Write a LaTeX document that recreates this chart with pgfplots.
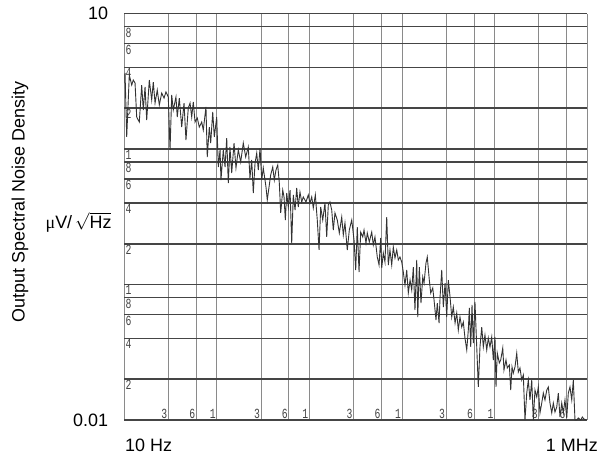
\documentclass[border=0pt]{standalone}
\usepackage{fontspec}
\setmainfont{Liberation Sans}
\newfontfamily\serifmu{Liberation Serif}
\newfontfamily\tickfont[FakeStretch=0.7]{Liberation Mono}
\usepackage{pgfplots}
\pgfplotsset{compat=1.18}
\usepackage{pgfplotstable}
\definecolor{hgrid}{HTML}{454545}
\definecolor{vgrid}{HTML}{8A8A8A}
\definecolor{trace}{HTML}{333333}
\definecolor{tickc}{HTML}{444444}
\pgfplotstableread{
lf lv
1.000 0.487
1.008 0.561
1.026 0.089
1.054 0.546
1.080 0.472
1.097 0.509
1.116 0.487
1.134 0.236
1.162 0.199
1.188 0.472
1.205 0.288
1.224 0.458
1.242 0.214
1.270 0.509
1.296 0.362
1.313 0.494
1.332 0.339
1.356 0.435
1.378 0.325
1.404 0.413
1.429 0.376
1.450 0.421
1.475 0.384
1.494 -0.007
1.512 0.399
1.529 0.288
1.558 0.384
1.572 0.236
1.594 0.376
1.620 0.162
1.645 0.339
1.666 0.066
1.691 0.303
1.710 0.339
1.728 0.236
1.745 0.347
1.764 0.199
1.788 0.229
1.810 0.162
1.836 0.199
1.853 0.140
1.882 0.310
1.896 -0.059
1.918 0.162
1.933 0.044
1.955 0.273
1.972 0.089
1.998 0.236
2.015 -0.133
2.034 -0.007
2.044 -0.229
2.069 -0.007
2.088 -0.133
2.106 0.081
2.123 -0.251
2.141 0.015
2.160 -0.177
2.185 0.044
2.206 -0.140
2.231 -0.007
2.257 -0.096
2.285 0.044
2.311 -0.059
2.339 0.015
2.357 -0.214
2.376 -0.081
2.393 -0.325
2.412 -0.103
2.430 -0.030
2.447 -0.155
2.466 0.007
2.484 -0.229
2.501 -0.140
2.530 -0.280
2.544 -0.376
2.566 -0.266
2.581 -0.192
2.603 -0.133
2.620 -0.229
2.638 -0.155
2.657 -0.118
2.674 -0.251
2.689 -0.472
2.711 -0.303
2.725 -0.354
2.739 -0.524
2.754 -0.325
2.771 -0.428
2.790 -0.303
2.808 -0.694
2.825 -0.339
2.844 -0.450
2.862 -0.288
2.879 -0.428
2.897 -0.317
2.916 -0.391
2.933 -0.354
2.962 -0.391
2.987 -0.339
3.005 -0.399
3.024 -0.354
3.041 -0.435
3.063 -0.339
3.084 -0.524
3.103 -0.745
3.121 -0.428
3.143 -0.524
3.167 -0.399
3.186 -0.649
3.203 -0.413
3.221 -0.391
3.240 -0.450
3.257 -0.598
3.275 -0.472
3.300 -0.524
3.322 -0.620
3.348 -0.502
3.365 -0.635
3.383 -0.546
3.408 -0.745
3.430 -0.598
3.456 -0.524
3.481 -0.672
3.499 -0.893
3.516 -0.576
3.535 -0.908
3.553 -0.613
3.575 -0.649
3.589 -0.598
3.610 -0.694
3.624 -0.620
3.646 -0.686
3.672 -0.613
3.689 -0.708
3.707 -0.649
3.732 -0.797
3.751 -0.856
3.769 -0.657
3.780 -0.878
3.797 -0.768
3.815 -0.834
3.834 -0.502
3.851 -0.856
3.869 -0.745
3.888 -0.856
3.905 -0.723
3.923 -0.804
3.942 -0.745
3.959 -0.819
3.977 -0.797
3.996 -0.834
4.013 -0.908
4.031 -1.004
4.050 -0.893
4.067 -1.063
4.086 -0.967
4.104 -1.041
4.121 -0.871
4.139 -1.188
4.158 -0.819
4.169 -1.240
4.186 -0.871
4.204 -1.137
4.223 -0.945
4.237 -0.989
4.258 -0.841
4.272 -0.797
4.294 -0.967
4.309 -1.063
4.331 -1.026
4.345 -1.114
4.366 -1.262
4.380 -1.137
4.399 -1.284
4.410 -1.092
4.428 -0.893
4.445 -1.166
4.464 -0.989
4.482 -1.240
4.499 -0.967
4.518 -1.092
4.536 -1.240
4.553 -1.166
4.572 -1.284
4.590 -1.210
4.607 -1.336
4.625 -1.240
4.644 -1.314
4.661 -1.277
4.679 -1.395
4.698 -1.483
4.715 -1.336
4.726 -1.173
4.741 -1.461
4.755 -1.151
4.769 -1.432
4.787 -1.129
4.806 -1.461
4.823 -1.756
4.841 -1.461
4.860 -1.314
4.877 -1.461
4.895 -1.373
4.914 -1.483
4.931 -1.395
4.949 -1.461
4.968 -1.387
4.985 -1.557
5.003 -1.387
5.014 -1.756
5.028 -1.506
5.050 -1.579
5.065 -1.557
5.087 -1.469
5.100 -1.631
5.122 -1.557
5.136 -1.616
5.158 -1.594
5.173 -1.779
5.187 -1.609
5.201 -1.653
5.219 -1.609
5.238 -1.506
5.255 -1.646
5.273 -1.616
5.292 -1.705
5.309 -1.668
5.327 -2.000
5.346 -1.801
5.363 -1.705
5.381 -1.852
5.400 -1.705
5.417 -2.000
5.435 -1.779
5.454 -1.830
5.471 -1.756
5.489 -1.948
5.508 -1.875
5.525 -1.801
5.543 -1.852
5.562 -1.779
5.579 -1.756
5.597 -1.875
5.616 -1.948
5.633 -1.875
5.651 -1.941
5.670 -1.904
5.687 -1.801
5.705 -1.978
5.724 -1.875
5.741 -1.948
5.759 -1.852
5.778 -1.985
5.795 -1.801
5.813 -1.756
5.832 -1.852
5.849 -1.705
5.867 -2.000
5.886 -2.000
5.903 -1.985
5.929 -2.000
5.946 -1.978
5.964 -1.993
5.986 -2.000
}\noisedata
\begin{document}
\begin{tikzpicture}
\useasboundingbox (0,0) rectangle (601bp,455bp);
\begin{axis}[
  at={(124.3bp,35bp)}, anchor=south west,
  scale only axis, width=463bp, height=406.5bp,
  xmode=log, ymode=log,
  xmin=10, xmax=1e6, ymin=0.01, ymax=10,
  axis line style={draw=none},
  major tick length=0pt,
  xtick={10,30,60,100,300,600,1000,3000,6000,10000,30000,60000,100000,300000,600000,1000000},
  xticklabels={,3,6,1,3,6,1,3,6,1,3,6,1,3,6,},
  ytick={0.02,0.04,0.06,0.08,0.1,0.2,0.4,0.6,0.8,1,2,4,6,8},
  yticklabels={2,4,6,8,1,2,4,6,8,1,2,4,6,8},
  extra y ticks={0.01,10},
  extra y tick labels={0.01,10},
  extra y tick style={
    yticklabel style={anchor=east, xshift=-16bp, inner sep=0pt,
      font=\fontsize{18}{18}\selectfont, text=black},
    grid style={hgrid, line width=1.6bp}},
  xmajorgrids, ymajorgrids,
  x grid style={vgrid, line width=1bp},
  y grid style={hgrid, line width=1.6bp},
  xticklabel style={anchor=south east, inner sep=1bp,
    font=\tickfont\fontsize{14}{14}\selectfont, text=tickc},
  yticklabel style={anchor=north west, inner sep=1bp,
    font=\tickfont\fontsize{14}{14}\selectfont, text=tickc},
  clip=true,
]
\addplot[trace, line width=0.9bp, mark=none]
  table[x expr={10^(\thisrow{lf})}, y expr={10^(\thisrow{lv})}] {\noisedata};
\end{axis}
\node[anchor=west, inner sep=0pt, font=\fontsize{18}{18}\selectfont] at (125bp,10bp) {10 Hz};
\node[anchor=east, inner sep=0pt, font=\fontsize{18}{18}\selectfont] at (598bp,10bp) {1 MHz};
\node[rotate=90, font=\fontsize{18}{18}\selectfont] at (20bp,253bp) {Output Spectral Noise Density};
\node[anchor=east, font=\fontsize{18}{18}\selectfont] at (115bp,233bp) {{\serifmu μ}V/\,$\sqrt{\mbox{Hz}}$};
\end{tikzpicture}
\end{document}
